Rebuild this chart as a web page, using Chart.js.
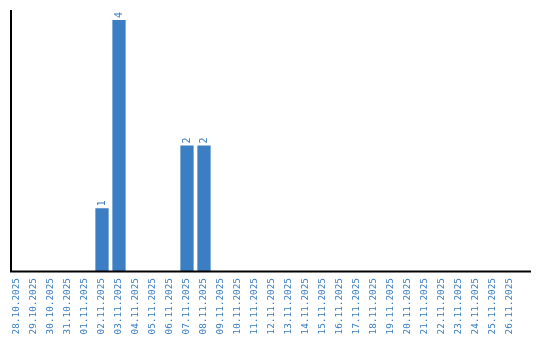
<!DOCTYPE html>
<html>
<head>
<meta charset="utf-8">
<script src="https://cdn.jsdelivr.net/npm/chart.js@4"></script>
<style>
  html, body { margin: 0; padding: 0; background: #fff; }
  #wrap { width: 540px; height: 340px; }
</style>
</head>
<body>
<div id="wrap"><canvas id="chart" width="540" height="340"></canvas></div>
<script>
// ── Data ─────────────────────────────────────────────────
const DATES = [
  "28.10.2025", "29.10.2025", "30.10.2025", "31.10.2025", "01.11.2025",
  "02.11.2025", "03.11.2025", "04.11.2025", "05.11.2025", "06.11.2025",
  "07.11.2025", "08.11.2025", "09.11.2025", "10.11.2025", "11.11.2025",
  "12.11.2025", "13.11.2025", "14.11.2025", "15.11.2025", "16.11.2025",
  "17.11.2025", "18.11.2025", "19.11.2025", "20.11.2025", "21.11.2025",
  "22.11.2025", "23.11.2025", "24.11.2025", "25.11.2025", "26.11.2025"
];
const COUNTS = [
  0, 0, 0, 0, 0,
  1, 4, 0, 0, 0,
  2, 2, 0, 0, 0,
  0, 0, 0, 0, 0,
  0, 0, 0, 0, 0,
  0, 0, 0, 0, 0
];
const Y_MAX = 4.16;

const BAR_COLOR = "#3b7ec4";
const TEXT_COLOR = "#3a7dc1";
const FONT_FAMILY = "'DejaVu Sans Mono', monospace";

// ── Axis lines (left + bottom, black) ────────────────────
const axisLinesPlugin = {
  id: "axisLines",
  afterDraw: (chart) => {
    const { ctx } = chart;
    const { top, bottom, left, right } = chart.chartArea;
    ctx.save();
    ctx.strokeStyle = "#000";
    ctx.lineWidth = 2;
    ctx.beginPath();
    ctx.moveTo(left + 2.5, top);
    ctx.lineTo(left + 2.5, bottom + 1);
    ctx.moveTo(left + 1.5, bottom + 0.5);
    ctx.lineTo(right + 12.5, bottom + 0.5);
    ctx.stroke();
    ctx.restore();
  }
};

// ── Value labels above bars, rotated ─────────────────────
const valueLabelPlugin = {
  id: "valueLabels",
  afterDatasetsDraw: (chart) => {
    const { ctx } = chart;
    const meta = chart.getDatasetMeta(0);
    ctx.save();
    ctx.fillStyle = TEXT_COLOR;
    ctx.font = "10px " + FONT_FAMILY;
    ctx.textAlign = "left";
    ctx.textBaseline = "middle";
    meta.data.forEach((bar, i) => {
      const v = COUNTS[i];
      if (!v) return;
      ctx.save();
      ctx.translate(bar.x, bar.y - 2);
      ctx.rotate(-Math.PI / 2);
      ctx.fillText(String(v), 0, 0);
      ctx.restore();
    });
    ctx.restore();
  }
};

new Chart(document.getElementById("chart"), {
  type: "bar",
  data: {
    labels: DATES,
    datasets: [{
      data: COUNTS,
      backgroundColor: BAR_COLOR,
      borderWidth: 0,
      categoryPercentage: 1,
      barPercentage: 0.78
    }]
  },
  plugins: [axisLinesPlugin, valueLabelPlugin],
  options: {
    responsive: false,
    animation: false,
    layout: { padding: { left: 8.5, right: 21.5, top: 10, bottom: 0 } },
    plugins: {
      legend: { display: false },
      tooltip: { enabled: false }
    },
    scales: {
      x: {
        grid: { display: false },
        border: { display: false },
        afterFit: (scale) => { scale.height = 69; },
        ticks: {
          color: TEXT_COLOR,
          font: { family: FONT_FAMILY, size: 9.4 },
          minRotation: 90,
          maxRotation: 90,
          autoSkip: false,
          padding: -1
        }
      },
      y: {
        display: false,
        min: 0,
        max: Y_MAX
      }
    }
  }
});
</script>
</body>
</html>
